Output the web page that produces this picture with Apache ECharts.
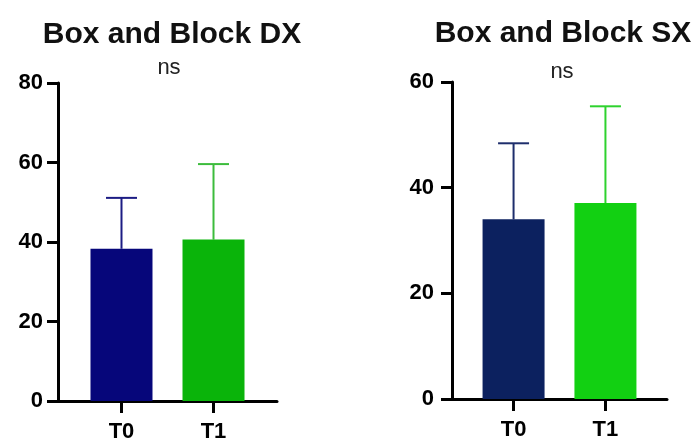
<!DOCTYPE html>
<html><head><meta charset="utf-8">
<script src="https://cdn.jsdelivr.net/npm/echarts@6/dist/echarts.min.js"></script>
<style>html,body{margin:0;padding:0;background:#fff}#c{width:693px;height:443px}</style>
</head><body><div id="c"></div>
<script>
const categories = ['T0', 'T1'];
const dxMean = [38.3, 40.6];
const dxUpper = [51.1, 59.6];
const sxMean = [34.0, 37.1];
const sxUpper = [48.4, 55.4];
const dxTicks = [0, 20, 40, 60, 80];
const sxTicks = [0, 20, 40, 60];
const titles = ['Box and Block DX', 'Box and Block SX'];
const sigLabel = 'ns';

const dxColors = ['#06067a', '#0ab40a'];
const dxErrColors = ['#1c1c84', '#3cbc3c'];
const sxColors = ['#0c215f', '#12d012'];
const sxErrColors = ['#1e2e6c', '#2ed22e'];

const chart = echarts.init(document.getElementById('c'));
const font = 'Liberation Sans, Arial, sans-serif';

function xAxisCfg(idx, min, max) {
  return {
    type: 'value', gridIndex: idx, min: min, max: max,
    splitLine: {show: false},
    axisLine: {show: true, onZero: false, lineStyle: {color: '#000', width: 3}},
    axisTick: {show: true, customValues: [1, 2], length: 12, lineStyle: {color: '#000', width: 3}},
    axisLabel: {customValues: [1, 2], formatter: v => categories[Math.round(v) - 1] || '',
      color: '#000', fontWeight: 'bold', fontSize: 22, fontFamily: font, margin: 20}
  };
}
function yAxisCfg(idx, max, margin) {
  return {
    type: 'value', gridIndex: idx, min: 0, max: max, interval: 20,
    splitLine: {show: false},
    axisLine: {show: true, lineStyle: {color: '#000', width: 3}},
    axisTick: {show: true, length: 11, lineStyle: {color: '#000', width: 3}},
    axisLabel: {color: '#000', fontWeight: 'bold', fontSize: 22, fontFamily: font, margin: margin}
  };
}
function barData(means, colors) {
  return means.map((m, i) => ({value: [i + 1, m], itemStyle: {color: colors[i]}}));
}
function errSeries(idx, means, uppers, colors) {
  return {
    type: 'custom', xAxisIndex: idx, yAxisIndex: idx, z: 1,
    data: means.map((m, i) => [i + 1, m, uppers[i]]),
    encode: {x: 0, y: [1, 2]},
    renderItem: function (params, api) {
      const x = api.value(0);
      const lo = api.coord([x, api.value(1)]);
      const hi = api.coord([x, api.value(2)]);
      const c = colors[params.dataIndex];
      const half = 15.5;
      return {type: 'group', children: [
        {type: 'line', shape: {x1: lo[0], y1: lo[1], x2: hi[0], y2: hi[1]}, style: {stroke: c, lineWidth: 2}},
        {type: 'line', shape: {x1: hi[0] - half, y1: hi[1], x2: hi[0] + half, y2: hi[1]}, style: {stroke: c, lineWidth: 2}}
      ]};
    }
  };
}

chart.setOption({
  animation: false,
  title: [
    {text: titles[0], left: 167, top: 15, textAlign: 'center', textStyle: {fontSize: 30, fontWeight: 'bold', color: '#111', fontFamily: font}},
    {text: titles[1], left: 558, top: 14, textAlign: 'center', textStyle: {fontSize: 30, fontWeight: 'bold', color: '#111', fontFamily: font}},
    {text: sigLabel, left: 164, top: 52, textAlign: 'center', textStyle: {fontSize: 22, fontWeight: 'normal', color: '#222', fontFamily: font}},
    {text: sigLabel, left: 557, top: 56, textAlign: 'center', textStyle: {fontSize: 22, fontWeight: 'normal', color: '#222', fontFamily: font}}
  ],
  grid: [
    {left: 58, top: 83, width: 219, height: 319},
    {left: 452, top: 82, width: 215, height: 317}
  ],
  xAxis: [xAxisCfg(0, 0.31, 2.69), xAxisCfg(1, 0.33, 2.67)],
  yAxis: [yAxisCfg(0, 80, 15), yAxisCfg(1, 60, 18)],
  series: [
    {type: 'bar', xAxisIndex: 0, yAxisIndex: 0, barWidth: 62, z: 2, data: barData(dxMean, dxColors)},
    {type: 'bar', xAxisIndex: 1, yAxisIndex: 1, barWidth: 62, z: 2, data: barData(sxMean, sxColors)},
    errSeries(0, dxMean, dxUpper, dxErrColors),
    errSeries(1, sxMean, sxUpper, sxErrColors)
  ]
});
</script></body></html>
